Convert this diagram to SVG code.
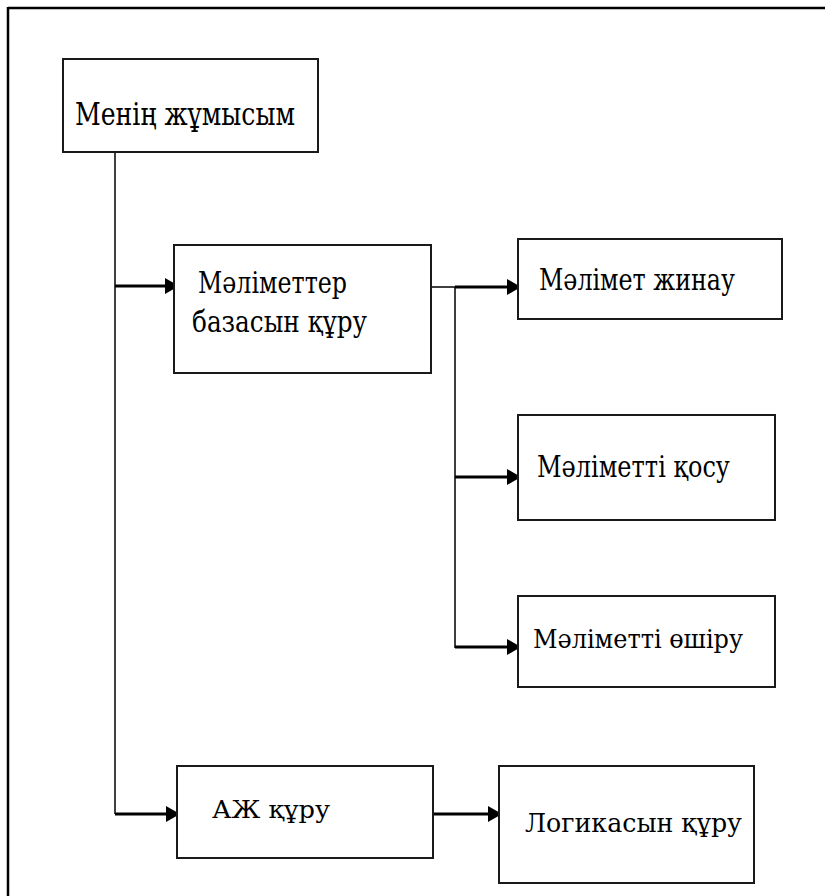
<svg xmlns="http://www.w3.org/2000/svg" width="825" height="896" viewBox="0 0 825 896">
<style>
.box{fill:#fff;stroke:#1a1a1a;stroke-width:2}
.t{fill:#000}
.thin{fill:none;stroke:#000;stroke-width:1.5}
.arr{fill:none;stroke:#000;stroke-width:3;marker-end:url(#ah)}
</style>
<defs>
<marker id="ah" markerUnits="userSpaceOnUse" markerWidth="14" markerHeight="16" refX="13" refY="8" orient="auto">
<path d="M0,0 L14,8 L0,16 Z" fill="#000"/>
</marker>
</defs>
<rect width="825" height="896" fill="#fff"/>
<g id="frame">
<line x1="8" y1="8" x2="825" y2="8" stroke="#000" stroke-width="2.5"/>
<line x1="8" y1="7" x2="8" y2="896" stroke="#000" stroke-width="2.5"/>
</g>
<g id="connectors">
<line class="thin" x1="115" y1="152" x2="115" y2="814"/>
<line class="arr" x1="115" y1="286" x2="178" y2="286"/>
<line class="arr" x1="115" y1="814" x2="179" y2="814"/>
<polyline class="thin" points="431,287 455,287 455,648"/>
<line class="arr" x1="455" y1="287" x2="520" y2="287"/>
<line class="arr" x1="455" y1="477" x2="520" y2="477"/>
<line class="arr" x1="455" y1="647" x2="520" y2="647"/>
<line class="arr" x1="433" y1="814" x2="501" y2="814"/>
</g>
<g font-family="'DejaVu Serif', 'Liberation Serif', serif">
<g id="n1">
<rect class="box" x="63" y="59" width="255" height="93"/>
<text class="t" x="75" y="125" font-size="31" textLength="220" lengthAdjust="spacingAndGlyphs">Менің жұмысым</text>
</g>
<g id="n2">
<rect class="box" x="174" y="245" width="257" height="128"/>
<text class="t" x="198" y="293" font-size="29" textLength="149" lengthAdjust="spacingAndGlyphs">Мәліметтер</text>
<text class="t" x="192" y="332" font-size="29" textLength="175" lengthAdjust="spacingAndGlyphs">базасын құру</text>
</g>
<g id="n3">
<rect class="box" x="518" y="239" width="264" height="80"/>
<text class="t" x="539" y="290" font-size="29" textLength="196" lengthAdjust="spacingAndGlyphs">Мәлімет жинау</text>
</g>
<g id="n4">
<rect class="box" x="518" y="415" width="257" height="105"/>
<text class="t" x="537" y="477" font-size="29" textLength="193" lengthAdjust="spacingAndGlyphs">Мәліметті қосу</text>
</g>
<g id="n5">
<rect class="box" x="518" y="596" width="257" height="91"/>
<text class="t" x="533" y="648" font-size="26" textLength="210" lengthAdjust="spacingAndGlyphs">Мәліметті өшіру</text>
</g>
<g id="n6">
<rect class="box" x="177" y="766" width="256" height="92"/>
<text class="t" x="212" y="818" font-size="25" textLength="118" lengthAdjust="spacingAndGlyphs">АЖ құру</text>
</g>
<g id="n7">
<rect class="box" x="499" y="766" width="255" height="117"/>
<text class="t" x="525" y="832" font-size="26" textLength="217" lengthAdjust="spacingAndGlyphs">Логикасын құру</text>
</g>
</g>
</svg>
